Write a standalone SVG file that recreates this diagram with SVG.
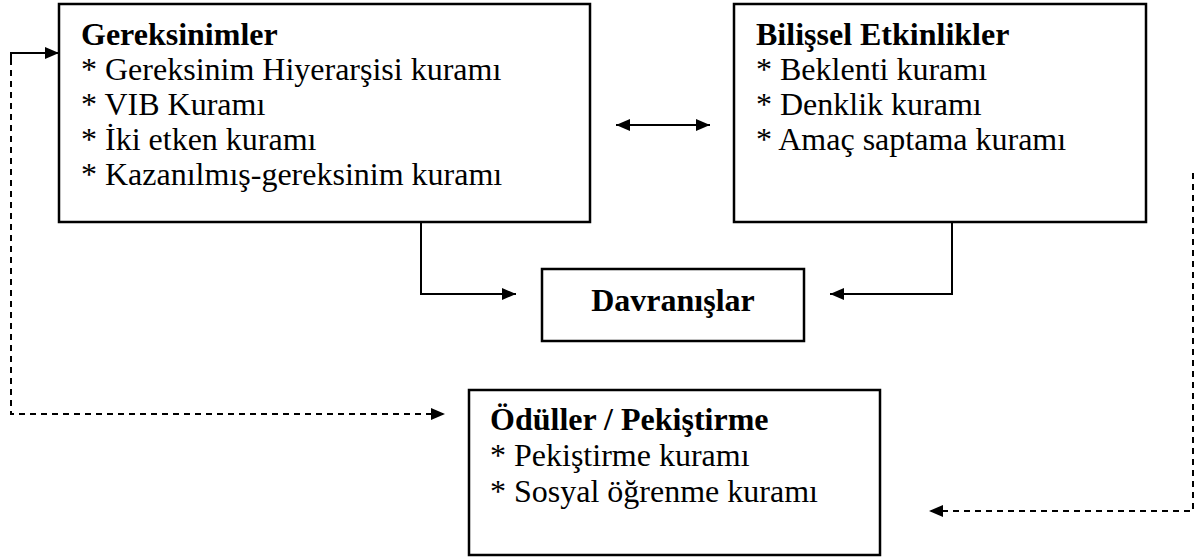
<svg xmlns="http://www.w3.org/2000/svg" width="1197" height="558" viewBox="0 0 1197 558">
<style>
.box{fill:#fff;stroke:#000;stroke-width:2.5}
.t{font-family:'Liberation Serif','Times New Roman',serif;font-size:32px;fill:#000}
.b{font-weight:bold}
.ln{fill:none;stroke:#000;stroke-width:2}
.d{stroke-dasharray:6,5}
</style>
<defs>
<marker id="ah" viewBox="0 0 14 12" refX="14" refY="6" markerWidth="14" markerHeight="12" markerUnits="userSpaceOnUse" orient="auto-start-reverse">
<path d="M0,0 L14,6 L0,12 z" fill="#000"/>
</marker>
</defs>
<g id="connectors">
<line class="ln" x1="616" y1="125" x2="710" y2="125" marker-start="url(#ah)" marker-end="url(#ah)"/>
<polyline class="ln" points="421,222 421,294 516,294" marker-end="url(#ah)"/>
<polyline class="ln" points="952,222 952,294 830,294" marker-end="url(#ah)"/>
<polyline class="ln d" points="11,59 11,414 445,414" marker-end="url(#ah)"/>
<polyline class="ln" points="11,59 11,53 59,53" marker-end="url(#ah)"/>
<polyline class="ln d" points="1193,173 1193,511 929,511" marker-end="url(#ah)"/>
</g>
<g id="node-gereksinimler" class="t">
<rect class="box" x="59" y="4" width="531" height="218"/>
<text x="81" y="45" class="b">Gereksinimler</text>
<text x="81" y="80">* Gereksinim Hiyerarşisi kuramı</text>
<text x="81" y="115">* VIB Kuramı</text>
<text x="81" y="150">* İki etken kuramı</text>
<text x="81" y="185">* Kazanılmış-gereksinim kuramı</text>
</g>
<g id="node-bilissel" class="t">
<rect class="box" x="734" y="4" width="412" height="218"/>
<text x="756" y="45" class="b">Bilişsel Etkinlikler</text>
<text x="756" y="80">* Beklenti kuramı</text>
<text x="756" y="115">* Denklik kuramı</text>
<text x="756" y="150">* Amaç saptama kuramı</text>
</g>
<g id="node-davranislar" class="t">
<rect class="box" x="542" y="269" width="262" height="72"/>
<text x="673" y="311" class="b" text-anchor="middle">Davranışlar</text>
</g>
<g id="node-oduller" class="t">
<rect class="box" x="469" y="390" width="411" height="165"/>
<text x="490" y="430" class="b">Ödüller / Pekiştirme</text>
<text x="490" y="466">* Pekiştirme kuramı</text>
<text x="490" y="502">* Sosyal öğrenme kuramı</text>
</g>
</svg>
